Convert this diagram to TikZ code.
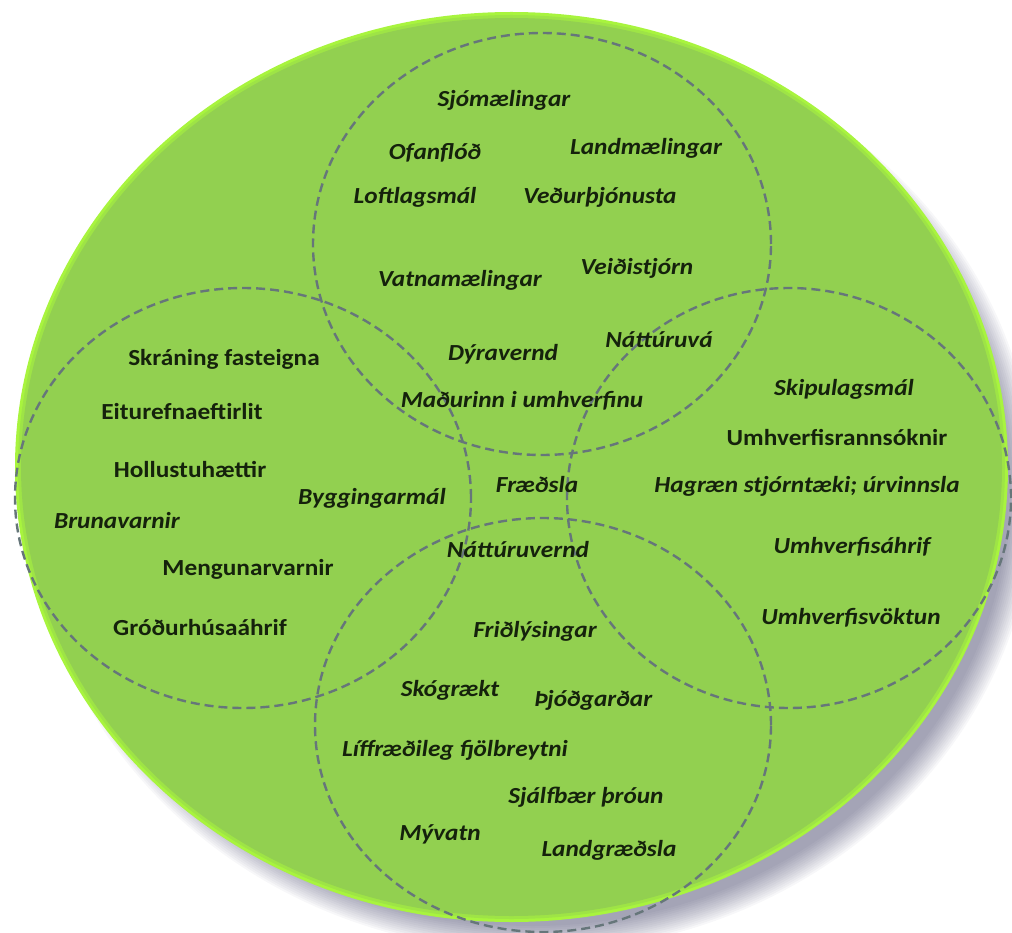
\documentclass[tikz,border=0pt]{standalone}
\usepackage{fontspec}
\setmainfont{Carlito}
\definecolor{grn}{HTML}{92D050}
\definecolor{rim}{HTML}{A8F43E}
\definecolor{dashcol}{HTML}{66767A}
\definecolor{txtcol}{HTML}{15220C}
\tikzset{
  venn/.style={draw=dashcol, line width=2.4pt, dash pattern=on 9pt off 5pt},
  uplbl/.style={font=\bfseries\fontsize{23}{27}\selectfont, text=txtcol, xscale=1.1, inner sep=0pt, anchor=base},
  itlbl/.style={font=\bfseries\itshape\fontsize{23}{27}\selectfont, text=txtcol, xscale=1.1, inner sep=0pt, anchor=base}
}
\begin{document}
\begin{tikzpicture}[x=1pt,y=-1pt]
\useasboundingbox (0,0) rectangle (1012,933);
% shadow
\foreach \r in {0,2,...,26}{
  \pgfmathsetlengthmacro\rx{(502-\r)*1pt}
  \pgfmathsetlengthmacro\ry{(460-\r)*1pt}
  \fill[black!80!blue, opacity=0.032] (533,492) ellipse [x radius=\rx, y radius=\ry];
}
% green disc
\fill[rim] (511.5,467) ellipse [x radius=496.5pt, y radius=455pt];
\fill[rim!55!grn] (511.5,467) ellipse [x radius=493.5pt, y radius=452pt];
\fill[grn] (511.5,467) ellipse [x radius=490.5pt, y radius=449pt];
% dashed circles
\draw[venn] (542,244) ellipse [x radius=229pt, y radius=211pt];
\draw[venn] (243,498) ellipse [x radius=228pt, y radius=210pt];
\draw[venn] (789,498) ellipse [x radius=222pt, y radius=210pt];
\draw[venn] (543,725) ellipse [x radius=228pt, y radius=207pt];
% top circle
\node[itlbl] (sjo) at (504,107) {Sjómælingar};
\node[itlbl] (ofa) at (435,160) {Ofanflóð};
\node[itlbl] (lan) at (646,155) {Landmælingar};
\node[itlbl] (lof) at (415,204) {Loftlagsmál};
\node[itlbl] (ved) at (600,204) {Veðurþjónusta};
\node[itlbl] (vat) at (460,287) {Vatnamælingar};
\node[itlbl] (vei) at (637,275) {Veiðistjórn};
\node[itlbl] (dyr) at (503,360) {Dýravernd};
\node[itlbl] (nva) at (659,347) {Náttúruvá};
\node[itlbl] (mad) at (522,407) {Maðurinn i umhverfinu};
% left circle
\node[uplbl] (skr) at (224,365) {Skráning fasteigna};
\node[uplbl] (eit) at (182,419) {Eiturefnaeftirlit};
\node[uplbl] (hol) at (190,477) {Hollustuhættir};
\node[itlbl] (byg) at (372,504) {Byggingarmál};
\node[itlbl] (bru) at (117,528) {Brunavarnir};
\node[uplbl] (men) at (248,575) {Mengunarvarnir};
\node[uplbl] (gro) at (200,635) {Gróðurhúsaáhrif};
% centre
\node[itlbl] (fra) at (537,492) {Fræðsla};
% right circle
\node[itlbl] (ski) at (844,395) {Skipulagsmál};
\node[uplbl] (umr) at (837,445) {Umhverfisrannsóknir};
\node[itlbl] (hag) at (807,492) {Hagræn stjórntæki; úrvinnsla};
\node[itlbl] (uma) at (852,553) {Umhverfisáhrif};
\node[itlbl] (umv) at (851,624) {Umhverfisvöktun};
% bottom circle
\node[itlbl] (nve) at (518,557) {Náttúruvernd};
\node[itlbl] (fri) at (535,637) {Friðlýsingar};
\node[itlbl] (sko) at (450,696) {Skógrækt};
\node[itlbl] (thj) at (593,706) {Þjóðgarðar};
\node[itlbl] (lif) at (455,756) {Líffræðileg fjölbreytni};
\node[itlbl] (sja) at (586,803) {Sjálfbær þróun};
\node[itlbl] (myv) at (440,840) {Mývatn};
\node[itlbl] (lgr) at (609,856) {Landgræðsla};
\end{tikzpicture}
\end{document}
